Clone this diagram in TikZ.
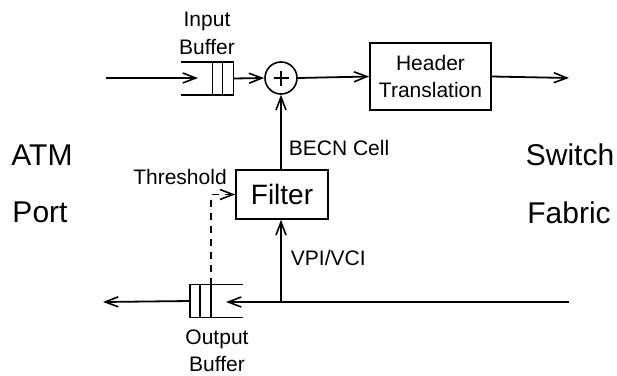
\documentclass[tikz,border=0pt]{standalone}
\usepackage{fontspec}
\setmainfont{Liberation Sans}
\usetikzlibrary{arrows.meta}
\begin{document}
\begin{tikzpicture}[x=1pt,y=-1pt,
  line width=1.8pt,
  arr/.style={-{Straight Barb[length=13pt,width=10pt,line width=1.6pt]}},
  sm/.style={font=\fontsize{21}{25}\selectfont, align=center, inner sep=0pt},
  big/.style={font=\fontsize{30}{34}\selectfont, inner sep=0pt},
  boxn/.style={draw, line width=1.6pt, inner sep=0pt, align=center},
  buf/.style={inner sep=0pt, minimum width=51pt, minimum height=31pt},
  bufline/.style={line width=1.5pt}]
\useasboundingbox (0,0) rectangle (617,375);

% nodes
\node[buf] (ibuf) at (207,78.5) {};
\node[circle, draw, line width=1.6pt, minimum size=32pt, inner sep=0pt] (sum) at (281,78) {};
\node[boxn, sm, minimum width=121pt, minimum height=67pt] (hdr) at (430.5,76.5) {Header\\[2pt]Translation};
\node[boxn, font=\fontsize{28}{32}\selectfont, minimum width=92pt, minimum height=49pt] (filter) at (282,194.5) {Filter};
\node[buf] (obuf) at (216.5,301) {};

% texts
\node[sm] (tin) at (207,21) {Input};
\node[sm] (tib) at (207,47) {Buffer};
\node[sm] (tout) at (217,339) {Output};
\node[sm] (tob) at (217,364) {Buffer};
\node[sm, anchor=west] (tbecn) at (288,148) {BECN Cell};
\node[sm, anchor=west] (tvpi) at (290,258) {VPI/VCI};
\node[sm] (tthr) at (180,177) {Threshold};
\node[big] (tatm) at (42,155) {ATM};
\node[big] (tport) at (40,212) {Port};
\node[big] (tsw) at (570,155) {Switch};
\node[big] (tfab) at (569,213) {Fabric};

% input buffer
\draw[bufline] (ibuf.north west) -- (ibuf.north east) -- (ibuf.south east) -- (ibuf.south west);
\draw[bufline] ([xshift=-21pt]ibuf.north east) -- ([xshift=-21pt]ibuf.south east);
\draw[bufline] ([xshift=-11pt]ibuf.north east) -- ([xshift=-11pt]ibuf.south east);

% output buffer
\draw[bufline] (obuf.north east) -- (obuf.north west) -- (obuf.south west) -- (obuf.south east);
\draw[bufline] ([xshift=10pt]obuf.north west) -- ([xshift=10pt]obuf.south west);
\draw[bufline] ([xshift=21pt]obuf.north west) -- ([xshift=21pt]obuf.south west);

% plus sign
\draw[line width=2pt] ([xshift=-7.5pt]sum.center) -- ([xshift=7.5pt]sum.center);
\draw[line width=2pt] ([yshift=-7.5pt]sum.center) -- ([yshift=7.5pt]sum.center);

% coordinates
\coordinate (inL) at (106,78);
\coordinate (inTip) at (198,78);
\coordinate (outR) at (569,78);
\coordinate (sfR) at (569,302);
\coordinate (obTip) at (226,302);
\coordinate (branch) at (281,302);
\coordinate (outL) at (103,302);

% connectors
\draw[arr] (inL) -- (inTip);
\draw[arr] (ibuf.east) -- (sum.west);
\draw[arr] (sum.east) -- (hdr.west);
\draw[arr] (hdr.east) -- (outR);
\draw[arr] (filter.north -| sum.south) -- (sum.south);
\draw[arr] (sfR) -- (obTip);
\draw[arr] (branch) -- (branch |- filter.south);
\draw[arr] (obuf.west) -- (outL);
\draw[arr, line width=1.5pt, dash pattern=on 7pt off 6pt] ([xshift=21pt]obuf.north west) |- (filter.west);
\end{tikzpicture}
\end{document}
